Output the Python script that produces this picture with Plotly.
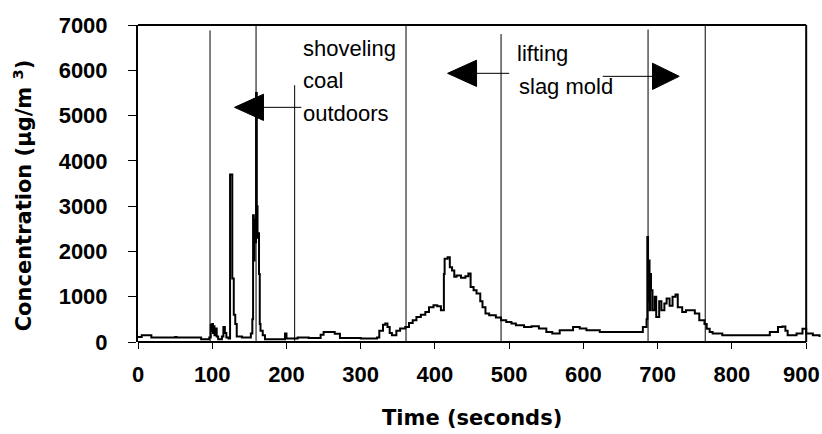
import plotly.graph_objects as go

# ---- data (time in s, concentration in ug/m3) ----
time_s = [0, 5, 18, 50, 52, 85, 96, 98, 99, 100, 101, 102, 103, 104, 106, 108, 113, 115, 117, 119,
          122, 124, 127, 129, 131, 133, 140, 152, 154, 155, 156, 157, 158, 159, 160, 161, 162, 163,
          164, 165, 168, 171, 198, 200, 215, 230, 246, 250, 265, 272, 300, 322, 325, 330, 333, 336,
          339, 342, 348, 353, 360, 365, 370, 375, 381, 387, 392, 398, 403, 408, 412, 413, 417, 420,
          423, 426, 429, 435, 441, 445, 448, 452, 456, 461, 464, 468, 473, 482, 489, 496, 503, 509,
          520, 530, 540, 550, 558, 568, 586, 595, 604, 622, 680, 685, 686, 687, 688, 689, 690, 691,
          693, 696, 698, 702, 705, 709, 712, 716, 720, 724, 727, 733, 738, 750, 756, 763, 766, 770,
          774, 787, 851, 862, 868, 872, 875, 887, 895, 900, 909, 918]
conc = [110, 150, 100, 110, 100, 60, 100, 380, 250, 400, 200, 350, 150, 300, 120, 60, 120, 330, 200, 100,
        80, 3700, 1400, 600, 400, 120, 100, 190, 500, 2800, 1800, 2700, 2200, 5500, 3000, 2300, 2400, 1500,
        400, 250, 150, 60, 190, 80, 100, 90, 160, 220, 180, 90, 75, 100, 250, 380, 410, 330,
        200, 150, 250, 300, 330, 420, 480, 550, 600, 660, 770, 810, 790, 700, 1500, 1840, 1870, 1650,
        1580, 1440, 1470, 1420, 1450, 1510, 1215, 1140, 1070, 900, 770, 630, 590, 540, 480, 440, 410, 370,
        330, 350, 300, 220, 190, 260, 330, 300, 260, 220, 330, 500, 2320, 900, 1800, 700, 1500, 1140,
        700, 1000, 550, 900, 700, 850, 960, 800, 1000, 1050, 770, 660, 700, 630, 480, 400, 295, 220,
        185, 150, 220, 330, 345, 250, 150, 185, 295, 185, 150, 110]

# event marker lines: x position, top of line (concentration units)
marker_x = [97, 159, 211, 361, 489, 687, 764]
marker_top = [6880, 7000, 5670, 7000, 6800, 6900, 7000]

x_ticks = [0, 100, 200, 300, 400, 500, 600, 700, 800, 900]
y_ticks = [0, 1000, 2000, 3000, 4000, 5000, 6000, 7000]

# annotation texts
ann_text = ["shoveling", "coal", "outdoors", "lifting", "slag mold"]
ann_x = [220, 220, 220, 508, 510]
ann_y = [6480, 5770, 5040, 6380, 5650]

# arrows: tip, base of head, tail end, y level
arrow_tip_x = [130, 417, 729]
arrow_base_x = [169, 456, 693]
arrow_tail_x = [220, 500, 626]
arrow_y = [5182, 5933, 5866]
arrow_half_h = 290

FONT = "Liberation Sans"
TITLE_FONT = "DejaVu Sans"

fig = go.Figure()
fig.add_trace(go.Scatter(x=time_s, y=conc, mode="lines", line=dict(color="black", width=2, shape="hv"),
                         hoverinfo="skip", showlegend=False))

shapes = []
# frame
shapes.append(dict(type="line", xref="x", yref="paper", x0=0, x1=900, y0=0, y1=0,
                   line=dict(color="black", width=2)))
shapes.append(dict(type="line", xref="x", yref="paper", x0=0, x1=900, y0=1, y1=1,
                   line=dict(color="black", width=2)))
shapes.append(dict(type="line", xref="x", yref="paper", x0=900, x1=900, y0=0, y1=1,
                   line=dict(color="black", width=2)))
for mx, mt in zip(marker_x, marker_top):
    shapes.append(dict(type="line", xref="x", yref="y", x0=mx, x1=mx, y0=0, y1=mt,
                       line=dict(color="black", width=1)))
for tip, base, tail, ay in zip(arrow_tip_x, arrow_base_x, arrow_tail_x, arrow_y):
    shapes.append(dict(type="line", xref="x", yref="y", x0=base, x1=tail, y0=ay, y1=ay,
                       line=dict(color="black", width=1)))
    shapes.append(dict(type="path", xref="x", yref="y",
                       path=f"M {tip},{ay} L {base},{ay + arrow_half_h} L {base},{ay - arrow_half_h} Z",
                       fillcolor="black", line=dict(color="black", width=1)))

annotations = []
for t, ax, ay in zip(ann_text, ann_x, ann_y):
    annotations.append(dict(text=t, x=ax, y=ay, xref="x", yref="y", xanchor="left", yanchor="middle",
                            showarrow=False, font=dict(family=FONT, size=22, color="black")))
# last x tick label (would overflow the page edge as an axis label)
annotations.append(dict(text="<b>900</b>", x=900, y=0, xref="x", yref="paper", xshift=-5, yshift=-18,
                        xanchor="center", yanchor="top", showarrow=False,
                        font=dict(family=FONT, size=22, color="black")))
annotations.append(dict(text="<b>Time (seconds)</b>", x=450, y=0, xref="x", yref="paper",
                        yshift=-76, xanchor="center", yanchor="middle", showarrow=False,
                        font=dict(family=TITLE_FONT, size=21, color="black")))
annotations.append(dict(text="<b>Concentration (µg/m <sup>3</sup>)</b>", x=0, y=3239, xref="paper", yref="y",
                        xshift=-115, xanchor="center", yanchor="middle", textangle=-90, showarrow=False,
                        font=dict(family=TITLE_FONT, size=21, color="black")))

fig.update_layout(
    width=822, height=434,
    margin=dict(l=138, r=0, t=25, b=92, pad=0),
    paper_bgcolor="white", plot_bgcolor="white",
    shapes=shapes, annotations=annotations,
    xaxis=dict(range=[0, 921.3], tickmode="array", tickvals=x_ticks,
               ticktext=[str(v) if v < 900 else "" for v in x_ticks],
               showgrid=False, zeroline=False, showline=False, ticks="outside", ticklen=6, tickwidth=1,
               tickcolor="black", ticklabelstandoff=7,
               tickfont=dict(family=FONT, size=22, color="black", weight="bold")),
    yaxis=dict(range=[0, 7000], tickmode="array", tickvals=y_ticks, ticktext=[str(v) for v in y_ticks],
               showgrid=False, zeroline=False, showline=True, linecolor="black", linewidth=2,
               ticks="outside", ticklen=8, tickwidth=1, tickcolor="black", ticklabelstandoff=16,
               tickfont=dict(family=FONT, size=22, color="black", weight="bold")),
)

fig.write_html("out.html", config={"displayModeBar": False},
               post_script="document.body.style.margin='0';document.body.style.overflow='hidden';")
